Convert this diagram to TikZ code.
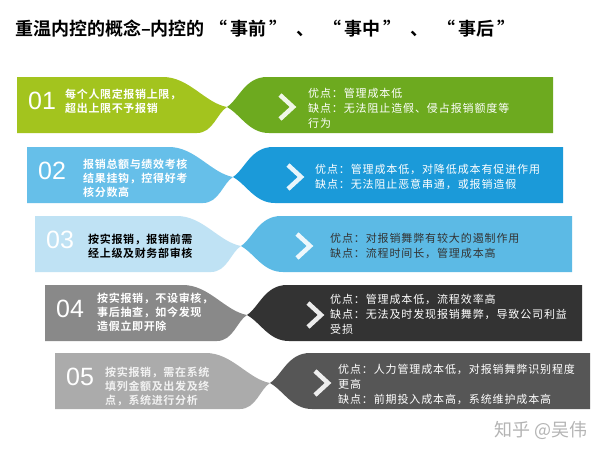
\documentclass[tikz,border=0pt]{standalone}
\usepackage{fontspec}
\setmainfont{Noto Sans CJK SC}[BoldFont={Noto Sans CJK SC Bold}]
\newfontfamily\numfont{Liberation Sans}
\usepackage{xcolor}
\usepackage{tikz}
\usetikzlibrary{calc}

\definecolor{limeL}{HTML}{A3C41E}
\definecolor{limeR}{HTML}{6DAA1F}
\definecolor{blueL}{HTML}{66BFE9}
\definecolor{blueR}{HTML}{1B9AD9}
\definecolor{paleL}{HTML}{BFE2F4}
\definecolor{paleR}{HTML}{5CBAE5}
\definecolor{grayL}{HTML}{898989}
\definecolor{grayR}{HTML}{333333}
\definecolor{silverL}{HTML}{ABABAB}
\definecolor{silverR}{HTML}{565656}
\definecolor{markgray}{HTML}{B4B4B4}

% quoted word of the title, with wide quote marks
\newcommand\quoted[1]{\hspace{5pt}“\hspace{3pt}#1\hspace{3pt}”\hspace{5pt}}

\tikzset{
  numtxt/.style={font=\numfont\fontsize{25}{25}\selectfont, text=white, anchor=west, inner sep=0pt},
  rule/.style={font=\bfseries\fontsize{11}{14}\selectfont\addfontfeature{LetterSpace=6}, align=left, anchor=west, inner sep=0pt},
  proscons/.style={font=\fontsize{11}{15}\selectfont\addfontfeature{LetterSpace=8}, align=left, anchor=west, inner sep=0pt},
  chevron/.style={white, line width=4.5pt, opacity=0.9, line join=miter}
}

\begin{document}
\begin{tikzpicture}[x=1pt,y=-1pt]
\useasboundingbox (0,0) rectangle (600,455);
\fill[white] (0,0) rectangle (600,455);
% Title
\node[anchor=west, inner sep=0pt, font=\bfseries\fontsize{18}{18}\selectfont] (title) at (15,29)
  {重温内控的概念–内控的\quoted{事前}\hspace{4pt}、\hspace{4pt}\quoted{事中}\hspace{4pt}、\hspace{4pt}\quoted{事后}};
% Twisted ribbons: left band, right band, chevron, number
\foreach \i/\xl/\yt/\tw/\xr/\cx/\colL/\colR in {
  1/17/77/227/553/280/limeL/limeR,
  2/27/147/233/563/288/blueL/blueR,
  3/35/216/241/572/297/paleL/paleR,
  4/45/285/247/582/308/grayL/grayR,
  5/55/353/270/590/315/silverL/silverR}{
  \pgfmathsetmacro\yb{\yt+56}
  \pgfmathsetmacro\ym{\yt+30}
  % right band
  \fill[\colR] (\tw,\ym) .. controls (\tw+12,\ym-8) and (\tw+18,\yt) .. (\tw+40,\yt)
    -- (\xr,\yt) -- (\xr,\yb) -- (\tw+42,\yb)
    .. controls (\tw+22,\yb) and (\tw+14,\ym+8) .. (\tw,\ym) -- cycle;
  % left band
  \fill[\colL] (\xl,\yt) -- (\tw-64,\yt) .. controls (\tw-38,\yt) and (\tw-22,\ym-4) .. (\tw,\ym)
    .. controls (\tw-10,\ym+6) and (\tw-14,\yb) .. (\tw-30,\yb) -- (\xl,\yb) -- cycle;
  % chevron
  \draw[chevron] (\cx,\ym-12) -- (\cx+13,\ym) -- (\cx,\ym+12);
  \node[numtxt] (num\i) at (\xl+11,\yt+24) {0\i};
}
% Rules (left)
\node[rule, text=white] (cond1) at (65,101.5) {每个人限定报销上限，\\超出上限不予报销};
\node[rule, text=white] (cond2) at (83,178) {报销总额与绩效考核\\结果挂钩，控得好考\\核分数高};
\node[rule, text=black] (cond3) at (88,246.5) {按实报销，报销前需\\经上级及财务部审核};
\node[rule, text=white] (cond4) at (97,312.5) {按实报销，不设审核，\\事后抽查，如今发现\\造假立即开除};
\node[rule, text=white!90!gray] (cond5) at (105,387) {按实报销，需在系统\\填列金额及出发及终\\点，系统进行分析};
% Pros and cons (right)
\node[proscons, text=white] (eval1) at (308,108) {优点：管理成本低\\缺点：无法阻止造假、侵占报销额度等\\行为};
\node[proscons, text=white] (eval2) at (315,176.5) {优点：管理成本低，对降低成本有促进作用\\缺点：无法阻止恶意串通，或报销造假};
\node[proscons, text=black!80] (eval3) at (330,245.5) {优点：对报销舞弊有较大的遏制作用\\缺点：流程时间长，管理成本高};
\node[proscons, text=white] (eval4) at (330,314) {优点：管理成本低，流程效率高\\缺点：无法及时发现报销舞弊，导致公司利益\\受损};
\node[proscons, text=white] (eval5) at (338,384) {优点：人力管理成本低，对报销舞弊识别程度\\更高\\缺点：前期投入成本高，系统维护成本高};
% Watermark
\node[anchor=east, inner sep=0pt, text=markgray, font=\fontsize{18}{18}\selectfont] (mark) at (588,430) {知乎 @吴伟};
\end{tikzpicture}
\end{document}
